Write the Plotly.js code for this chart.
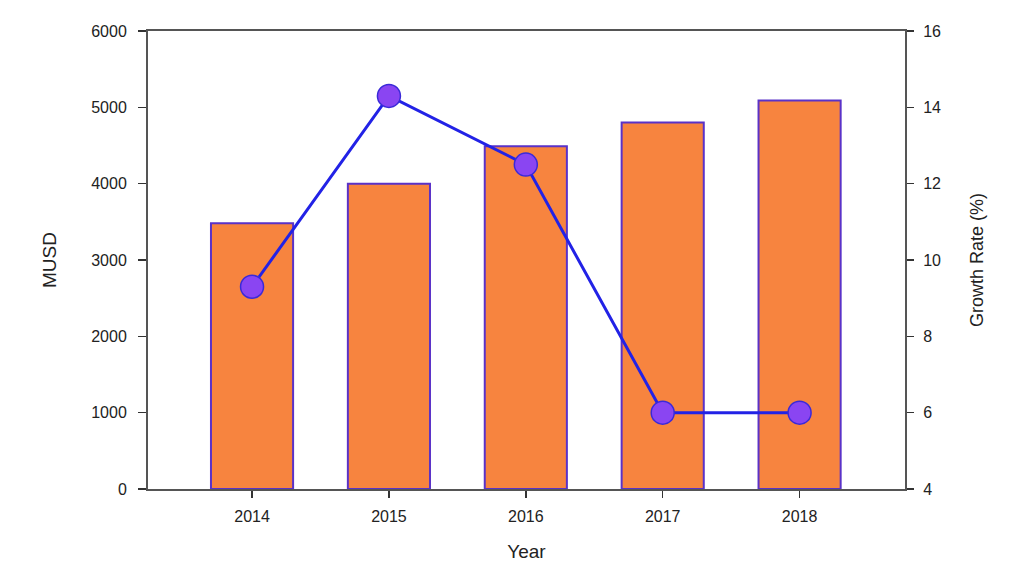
<!DOCTYPE html>
<html>
<head>
<meta charset="utf-8">
<script src="https://cdn.plot.ly/plotly-3.0.1.min.js"></script>
<style>
  html, body { margin: 0; padding: 0; background: #fff; }
  #chart { width: 1024px; height: 576px; }
</style>
</head>
<body>
<div id="chart"></div>
<script>
// data
var years = ['2014', '2015', '2016', '2017', '2018'];
var musd = [3480, 4000, 4490, 4800, 5090];
var growthRate = [9.3, 14.3, 12.5, 6.0, 6.0];

var bars = {
    x: years,
    y: musd,
    type: 'bar',
    name: 'MUSD',
    hoverinfo: 'none',
    marker: {
        color: '#F7843F',
        line: { color: '#5A32C8', width: 2 }
    }
};

var growth = {
    x: years,
    y: growthRate,
    type: 'scatter',
    mode: 'lines+markers',
    name: 'Growth Rate',
    yaxis: 'y2',
    hoverinfo: 'none',
    line: { color: '#2222E6', width: 3 },
    marker: {
        color: '#8A45F2',
        size: 23,
        line: { color: '#3A2AD8', width: 1.5 }
    }
};

var fam = 'Liberation Sans, Arial, sans-serif';
var tickFont = { family: fam, size: 16, color: '#222' };
var titleFont = { family: fam, size: 19, color: '#222' };

var layout = {
    width: 1024,
    height: 576,
    margin: { l: 148, r: 119, t: 31, b: 87 },
    paper_bgcolor: '#fff',
    plot_bgcolor: '#fff',
    showlegend: false,
    bargap: 0.4,
    xaxis: {
        type: 'category',
        range: [-0.76, 4.77],
        showline: true,
        mirror: true,
        linecolor: '#555',
        linewidth: 2,
        ticks: 'outside',
        ticklen: 7,
        tickwidth: 1.5,
        tickcolor: '#333',
        tickfont: tickFont,
        ticklabelstandoff: 5,
        showgrid: false,
        zeroline: false,
        title: { text: 'Year', font: titleFont, standoff: 20 }
    },
    yaxis: {
        range: [0, 6000],
        dtick: 1000,
        showline: true,
        linecolor: '#555',
        linewidth: 2,
        ticks: 'outside',
        ticklen: 8,
        tickwidth: 1.5,
        tickcolor: '#333',
        tickfont: tickFont,
        ticklabelstandoff: 8,
        showgrid: false,
        zeroline: false,
        title: { text: 'MUSD', font: titleFont, standoff: 30 }
    },
    yaxis2: {
        overlaying: 'y',
        side: 'right',
        range: [4, 16],
        dtick: 2,
        showline: true,
        linecolor: '#555',
        linewidth: 2,
        ticks: 'outside',
        ticklen: 7,
        tickwidth: 1.5,
        tickcolor: '#333',
        tickfont: tickFont,
        ticklabelstandoff: 6,
        showgrid: false,
        zeroline: false,
        title: { text: 'Growth Rate (%)', font: { family: fam, size: 18, color: '#222' }, standoff: 30 }
    }
};

Plotly.newPlot('chart', [bars, growth], layout, { displayModeBar: false, staticPlot: true });
</script>
</body>
</html>
